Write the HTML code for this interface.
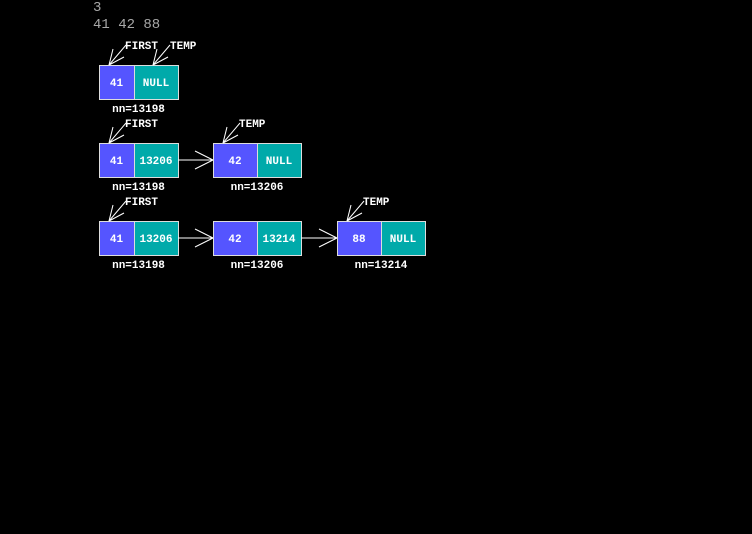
<!DOCTYPE html>
<html><head><meta charset="utf-8"><style>
html,body{margin:0;padding:0;background:#000;width:752px;height:534px;overflow:hidden}
svg text{font-family:"Liberation Mono","DejaVu Sans Mono",monospace}
</style></head><body>
<svg width="752" height="534" viewBox="0 0 752 534">
<text x="93" y="11" fill="#a8a8a8" font-size="14">3</text>
<text x="93" y="28" fill="#a8a8a8" font-size="14">41 42 88</text>
<g id="g" stroke-width="1"></g>
</svg>
<script>
const rows=[[{v:'41',n:'NULL',a:'13198'}],[{v:'41',n:'13206',a:'13198'},{v:'42',n:'NULL',a:'13206'}],[{v:'41',n:'13206',a:'13198'},{v:'42',n:'13214',a:'13206'},{v:'88',n:'NULL',a:'13214'}]];
const rowY=[65,143,221];
const colX=[99,213,337];
const g=document.getElementById('g');
const NS='http://www.w3.org/2000/svg';
function el(t,at,txt){const e=document.createElementNS(NS,t);for(const k in at)e.setAttribute(k,at[k]);if(txt)e.textContent=txt;g.appendChild(e);return e;}
function ptr(tx,ty,label,lx){
 el('line',{x1:tx,y1:ty,x2:tx+17,y2:ty-20,stroke:'#fff'});
 el('line',{x1:tx,y1:ty,x2:tx+4,y2:ty-16,stroke:'#fff'});
 el('line',{x1:tx,y1:ty,x2:tx+15,y2:ty-8,stroke:'#fff'});
 const t=el('text',{x:lx,y:ty-16,fill:'#fff','font-size':'11','font-weight':'bold'},label);
 
 
}
rows.forEach((r,ri)=>{
 const y=rowY[ri];
 r.forEach((nd,i)=>{
  const x=colX[i];const w=i==0?35:44;const W=i==0?79:88;
  const a=el('rect',{x:x+0.5,y:y+0.5,width:w,height:34,fill:'#5555ff',stroke:'#ddd'});
  
  const b=el('rect',{x:x+w+0.5,y:y+0.5,width:W-w,height:34,fill:'#00aaaa',stroke:'#ddd'});
  
  el('text',{x:x+w/2,y:y+21,fill:'#fff','font-size':'11','font-weight':'bold','text-anchor':'middle'},nd.v);
  el('text',{x:x+w+(W-w)/2,y:y+21,fill:'#fff','font-size':'11','font-weight':'bold','text-anchor':'middle'},nd.n);
  const t=el('text',{x:x+W/2,y:y+47,fill:'#fff','font-size':'11','font-weight':'bold','text-anchor':'middle'},'nn='+nd.a);
  
  if(i<r.length-1){
   const x1=x+W,x2=colX[i+1],cy=y+17;
   el('line',{x1:x1,y1:cy,x2:x2,y2:cy,stroke:'#fff'});
   el('line',{x1:x2-18,y1:cy-9,x2:x2,y2:cy,stroke:'#fff'});
   el('line',{x1:x2-18,y1:cy+9,x2:x2,y2:cy,stroke:'#fff'});
  }
 });
 ptr(colX[0]+10,y,'FIRST',125);
 const li=r.length-1;
 if(li==0) ptr(colX[0]+54,y,'TEMP',170);
 else ptr(colX[li]+10,y,'TEMP',colX[li]+26);
});
</script>
</body></html>
